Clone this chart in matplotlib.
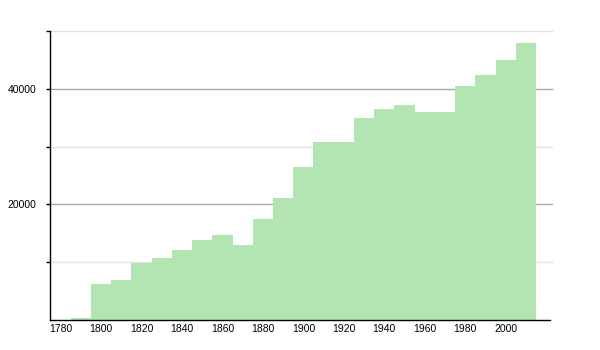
import numpy as np
import matplotlib
matplotlib.use('Agg')
import matplotlib.pyplot as plt

# decade centres and population values
years = [1790, 1800, 1810, 1820, 1830, 1840, 1850, 1860, 1870, 1880, 1890, 1900,
         1910, 1920, 1930, 1940, 1950, 1960, 1970, 1980, 1990, 2000, 2010]
population = [400, 6200, 7000, 9900, 10800, 12100, 13900, 14700, 12900, 17500, 21100, 26400,
              30800, 30800, 35000, 36500, 37100, 36000, 36000, 40400, 42400, 44900, 47900]
x_ticks = [1780, 1800, 1820, 1840, 1860, 1880, 1900, 1920, 1940, 1960, 1980, 2000]
y_labels = [20000, 40000]
y_ticks = [10000, 20000, 30000, 40000, 50000]

plt.rcParams['font.family'] = ['Liberation Sans', 'DejaVu Sans']

fig = plt.figure(figsize=(6, 3.5), dpi=100)
ax = fig.add_axes([0.084, 0.0857, 0.833, 0.826])

# grid lines behind the bars
for v in y_ticks:
    major = v in y_labels
    ax.axhline(v, color='#a8a8a8' if major else '#e2e2e2', lw=1.0, zorder=0, clip_on=False,
               xmin=0, xmax=1.004)

ax.bar(years, population, width=10, color='#b3e5b3', edgecolor='none', zorder=1)

ax.set_xlim(1775, 2022)
ax.set_ylim(0, 50000)

ax.set_xticks(x_ticks)
ax.set_xticklabels([str(x) for x in x_ticks])
ax.set_yticks(y_ticks)
ax.set_yticklabels([str(v) if v in y_labels else '' for v in y_ticks])

ax.tick_params(axis='x', length=0, pad=3, labelsize=7.5)
ax.tick_params(axis='y', length=3, width=1, pad=7, labelsize=7.5, direction='out')

for s in ['top', 'right']:
    ax.spines[s].set_visible(False)
for s in ['left', 'bottom']:
    ax.spines[s].set_linewidth(1.0)
    ax.spines[s].set_color('black')

fig.savefig('out.png', dpi=100)
